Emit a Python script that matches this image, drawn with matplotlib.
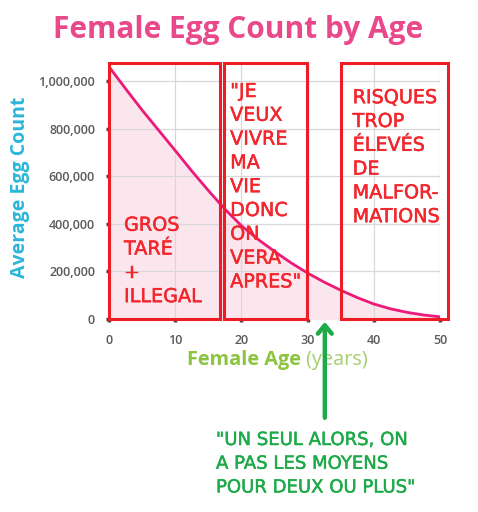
import matplotlib
matplotlib.use("Agg")
import matplotlib.pyplot as plt
import matplotlib.patheffects as pe
from matplotlib.patches import Rectangle
from matplotlib.ticker import FuncFormatter

# ---- data ----
ages = [0, 2.5, 5, 7.5, 10, 12.5, 15, 17.5, 20, 22.5, 25, 27.5, 30,
        32.5, 35, 37.5, 40, 42.5, 45, 47.5, 50]
egg_counts = [1060000, 968000, 878000, 793000, 708000, 622000, 540000,
              462000, 392000, 335000, 284000, 236000, 193000, 155000,
              121000, 90000, 63000, 43000, 28000, 17000, 9000]
x_ticks = [0, 10, 20, 30, 40, 50]
y_ticks = [0, 200000, 400000, 600000, 800000, 1000000]

title = "Female Egg Count by Age"
y_label = "Average Egg Count"
x_label_bold = "Female Age"
x_label_light = " (years)"

box_texts = ["GROS\nTARÉ\n+\nILLEGAL",
             "\"JE\nVEUX\nVIVRE\nMA\nVIE\nDONC\nON\nVERA\nAPRES\"",
             "RISQUES\nTROP\nÉLEVÉS\nDE\nMALFOR-\nMATIONS"]
green_text = "\"UN SEUL ALORS, ON\nA PAS LES MOYENS\nPOUR DEUX OU PLUS\""

# ---- layout / style ----
W, H = 478, 512
fig = plt.figure(figsize=(W / 100, H / 100), dpi=100)
fig.patch.set_facecolor("white")
ax = fig.add_axes([109 / W, 1 - 319 / H, (440 - 109) / W, (319 - 62) / H])
ax.patch.set_visible(False)
ax.set_xlim(0, 50)
ax.set_ylim(0, 1080000)

pink = "#ec1a78"
red = "#ee1c25"
green = "#1faa4a"
red_txt = "#f2262c"

ax.fill_between(ages, egg_counts, 0, color="#fce6ee", zorder=1)
ax.plot(ages, egg_counts, color=pink, lw=2.0, zorder=3)

ax.set_xticks(x_ticks)
ax.set_yticks(y_ticks)
ax.yaxis.set_major_formatter(FuncFormatter(lambda v, p: f"{int(v):,}"))
ax.grid(True, color="#d8d8d8", lw=0.9, zorder=0)
for s in ax.spines.values():
    s.set_visible(False)
ax.tick_params(axis="both", length=2, width=2.5, color="#444444",
               labelcolor="#5a5a5a", labelsize=9)
ax.tick_params(axis="x", pad=9)
ax.tick_params(axis="y", pad=8)
for lab in ax.get_xticklabels() + ax.get_yticklabels():
    lab.set_fontfamily("Open Sans")
    lab.set_fontweight("semibold")

# red boxes
box_spans = [(0, 16.75), (17.4, 29.9), (35.0, 51.2)]
box_top = 1076000
for x0, x1 in box_spans:
    ax.add_patch(Rectangle((x0, 0), x1 - x0, box_top, fill=False,
                           edgecolor=red, lw=2.2, clip_on=False, zorder=5))

txt_kw = dict(color=red_txt, fontsize=13.8, family="DejaVu Sans",
              linespacing=1.32, ha="left", va="top", zorder=6,
              path_effects=[pe.withStroke(linewidth=0.35, foreground=red_txt)])
ax.text(2.27, 434000, box_texts[0], **txt_kw)
ax.text(18.3, 996000, box_texts[1], **txt_kw)
ax.text(36.8, 970000, box_texts[2], **txt_kw)

# green arrow
ax.annotate("", xy=(32.6, -12000), xytext=(32.6, -415000),
            xycoords="data", textcoords="data",
            arrowprops=dict(arrowstyle="->,head_length=0.6,head_width=0.5",
                            color=green, lw=3.2, shrinkA=0, shrinkB=0),
            annotation_clip=False, zorder=8)
fig.text(216 / W, 1 - 431 / H, green_text, color=green, fontsize=13,
         family="DejaVu Sans", linespacing=1.41, ha="left", va="top",
         zorder=-1,
         path_effects=[pe.withStroke(linewidth=0.35, foreground=green)])

# title and labels
fig.text(238 / W, 1 - 30 / H, title, color="#e9498a", fontsize=21.5,
         family="Open Sans", weight="bold", ha="center", va="center",
         zorder=-1)
fig.text(20 / W, 1 - 187 / H, y_label, color="#2bb6da", fontsize=14,
         family="Open Sans", weight="bold", rotation=90,
         ha="center", va="center", zorder=-1)
t1 = fig.text(187 / W, 1 - 360 / H, x_label_bold, color="#8cc43f",
              fontsize=14.3, family="Open Sans", weight="bold",
              ha="left", va="center", zorder=-1)
fig.canvas.draw()
bb = t1.get_window_extent(renderer=fig.canvas.get_renderer())
fig.text(bb.x1 / W, 1 - 360 / H, x_label_light, color="#a3cf6f",
         fontsize=14.3, family="Open Sans", weight="normal",
         ha="left", va="center", zorder=-1)

fig.savefig("out.png", dpi=100, facecolor="white")
